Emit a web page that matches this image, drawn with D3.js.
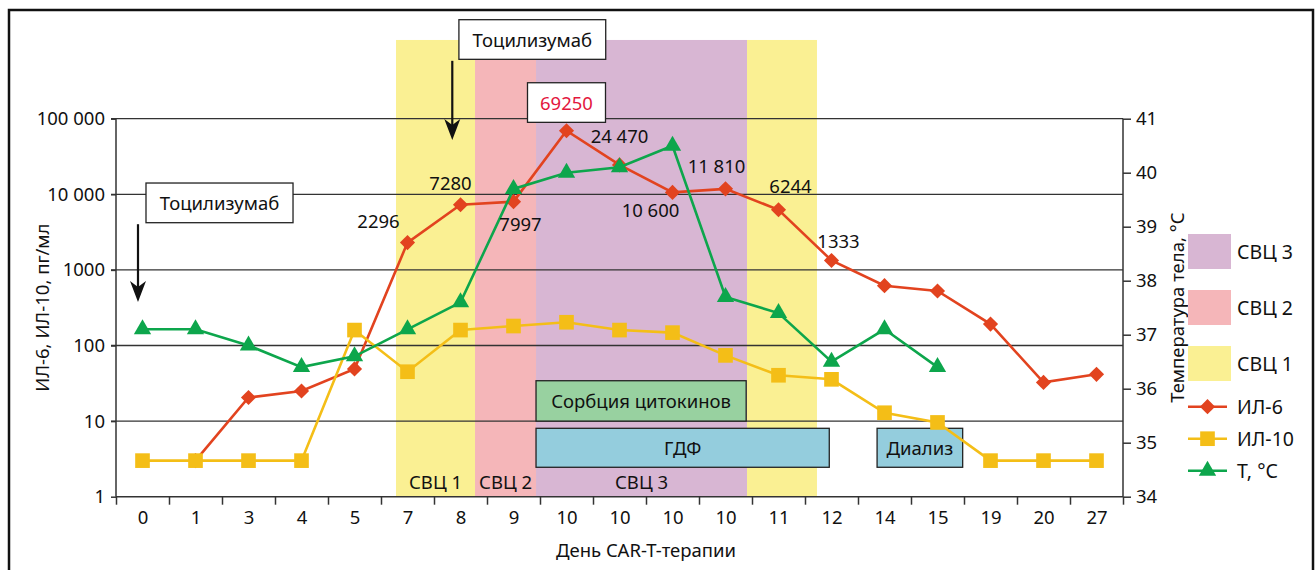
<!DOCTYPE html>
<html><head><meta charset="utf-8">
<script src="https://cdn.jsdelivr.net/npm/d3@7/dist/d3.min.js"></script>
<style>
body{margin:0;background:#fff;}
svg text{font-family:"Noto Sans",sans-serif;fill:#111;}
</style></head>
<body><svg id="c" width="1315" height="570"></svg>
<script>
// ---------- data ----------
const categories = ["0","1","3","4","5","7","8","9","10","10","10","10","11","12","14","15","19","20","27"];
const il6  = [null,3,20.5,25,49,2296,7280,7997,69250,24470,10600,11810,6244,1333,618,526,192,32.5,41.6];
const il10 = [3,3,3,3,160,45,160,181,203,160,148,74,40.4,35.7,12.9,9.6,3,3,3];
const temp = [37.1,37.1,36.8,36.4,36.6,37.1,37.6,39.7,40.0,40.1,40.5,37.7,37.4,36.5,37.1,36.4,null,null,null];
const leftTicks = [1,10,100,1000,10000,100000];
const leftTickLabels = ["1","10","100","1000","10 000","100 000"];
const rightTicks = [34,35,36,37,38,39,40,41];
// shaded periods, in category-index units
const periods = [
  {name:"СВЦ 1", from:5.283, to:6.774, color:"#faf093", label:true},
  {name:"СВЦ 2", from:6.774, to:7.925, color:"#f5b6b9", label:true},
  {name:"СВЦ 3", from:7.925, to:11.906, color:"#d8b6d3", label:true},
  {name:"СВЦ 1", from:11.906, to:13.226, color:"#faf093", label:false}
];
// treatment boxes: index span and value span (left axis)
const treatments = [
  {name:"Сорбция цитокинов", from:7.925, to:11.89, lo:10, hi:34.2, color:"#98d1a0"},
  {name:"ГДФ", from:7.925, to:13.458, lo:2.45, hi:8.03, color:"#94cddd"},
  {name:"Диализ", from:14.36, to:15.975, lo:2.45, hi:8.03, color:"#94cddd"}
];
// IL-6 value labels: index, text, offset
const il6Labels = [
  {i:5, t:"2296", dx:-29, dy:-15},
  {i:6, t:"7280", dx:-10, dy:-15},
  {i:7, t:"7997", dx:7, dy:29},
  {i:9, t:"24 470", dx:0, dy:-22},
  {i:10, t:"10 600", dx:-22, dy:25},
  {i:11, t:"11 810", dx:-9, dy:-16},
  {i:12, t:"6244", dx:12, dy:-17},
  {i:13, t:"1333", dx:7, dy:-12}
];
// Tocilizumab annotations (box spans + arrow)
const tocil = [
  {from:0.566, to:3.34, lo:4210, hi:14100, ax:0.415, atip:376},
  {from:6.47, to:9.24, lo:6.1e5, hi:2.04e6, ax:6.345, atip:52300}
];
const peak = {i:8, t:"69250", lo:8.95e4, hi:2.99e5};

// ---------- layout ----------
const svg = d3.select("#c");
const L=116, R=1123, T=118.7, B=496.7;
const x = d3.scaleLinear().domain([0,categories.length]).range([L,R]);
const cx = i => x(i+0.5);
const y = d3.scaleLog().domain([1,100000]).range([B,T]);
const yT = d3.scaleLinear().domain([34,41]).range([B,T]);
const FS = 18.5;

// outer frame
svg.append("rect").attr("x",9).attr("y",10).attr("width",1304).attr("height",600)
  .attr("fill","none").attr("stroke","#111").attr("stroke-width",2.5);

// shaded periods
svg.append("g").selectAll("rect").data(periods).join("rect")
  .attr("x",d=>x(d.from)).attr("width",d=>x(d.to)-x(d.from))
  .attr("y",y(1.1e6)).attr("height",B-y(1.1e6)).attr("fill",d=>d.color);

// gridlines
svg.append("g").selectAll("line").data(leftTicks.slice(1)).join("line")
  .attr("x1",L-5).attr("x2",R).attr("y1",d=>y(d)).attr("y2",d=>y(d))
  .attr("stroke","#333").attr("stroke-width",1.3);

// left axis
const gl = svg.append("g").attr("transform",`translate(${L},0)`)
  .call(d3.axisLeft(y).tickValues(leftTicks).tickFormat((d,i)=>leftTickLabels[i]).tickSize(5).tickPadding(6));
// right axis
const gr = svg.append("g").attr("transform",`translate(${R},0)`)
  .call(d3.axisRight(yT).tickValues(rightTicks).tickFormat(d3.format("d")).tickSize(8).tickPadding(5));
// bottom axis: boundary ticks
const gb = svg.append("g").attr("transform",`translate(0,${B})`)
  .call(d3.axisBottom(x).tickValues(d3.range(categories.length+1)).tickFormat("").tickSize(8));
const gb2 = svg.append("g").attr("transform",`translate(0,${B})`)
  .call(d3.axisBottom(x).tickValues(d3.range(categories.length).map(i=>i+0.5))
    .tickFormat((d)=>categories[Math.floor(d)]).tickSize(0).tickPadding(14));
gb2.select(".domain").remove();
[gl,gr,gb,gb2].forEach(g=>{
  g.selectAll(".domain").attr("stroke","#333").attr("stroke-width",1.5);
  g.selectAll(".tick line").attr("stroke","#333").attr("stroke-width",1.5);
  g.selectAll("text").attr("font-size",FS).attr("font-family","Noto Sans").attr("fill","#111");
});
gl.select(".domain").attr("d",`M0,${B}V${T}`);
gr.select(".domain").attr("d",`M0,${B}V${T}`);
gb.select(".domain").attr("d",`M${L},0H${R}`);

// treatment boxes
const tg = svg.append("g").selectAll("g").data(treatments).join("g");
tg.append("rect").attr("x",d=>x(d.from)).attr("width",d=>x(d.to)-x(d.from))
  .attr("y",d=>y(d.hi)).attr("height",d=>y(d.lo)-y(d.hi))
  .attr("fill",d=>d.color).attr("stroke","#222").attr("stroke-width",1.3);
tg.append("text").attr("x",d=>(x(d.from)+x(d.to))/2).attr("y",d=>(y(d.lo)+y(d.hi))/2)
  .attr("text-anchor","middle").attr("dominant-baseline","central").attr("font-size",FS)
  .text(d=>d.name);

// period labels
svg.append("g").selectAll("text").data(periods.filter(d=>d.label)).join("text")
  .attr("x",d=>(x(d.from)+x(d.to))/2).attr("y",B-8).attr("text-anchor","middle")
  .attr("font-size",FS).text(d=>d.name);

// series
const series = [
  {name:"ИЛ-6", vals:il6, sc:y, color:"#e2431f", sym:"diamond"},
  {name:"ИЛ-10", vals:il10, sc:y, color:"#f4be17", sym:"square"},
  {name:"Т, °С", vals:temp, sc:yT, color:"#0da64c", sym:"triangle"}
];
function marker(g, sym, color){
  if(sym==="diamond") g.append("path").attr("d",d3.symbol(d3.symbolSquare,115)()).attr("transform","rotate(45)").attr("fill",color);
  else if(sym==="square") g.append("path").attr("d",d3.symbol(d3.symbolSquare,215)()).attr("fill",color);
  else g.append("path").attr("d",d3.symbol(d3.symbolTriangle,130)()).attr("fill",color);
}
series.forEach(s=>{
  const line = d3.line().defined(v=>v!=null).x((v,i)=>cx(i)).y(v=>s.sc(v));
  svg.append("path").datum(s.vals).attr("d",line).attr("fill","none")
    .attr("stroke",s.color).attr("stroke-width",2.6);
  s.vals.forEach((v,i)=>{
    if(v==null) return;
    const g = svg.append("g").attr("transform",`translate(${cx(i)},${s.sc(v)})`);
    marker(g,s.sym,s.color);
  });
});

// IL-6 labels
svg.append("g").selectAll("text").data(il6Labels).join("text")
  .attr("x",d=>cx(d.i)+d.dx).attr("y",d=>y(il6[d.i])+d.dy).attr("text-anchor","middle")
  .attr("font-size",FS).text(d=>d.t);

// peak box
svg.append("rect").attr("x",cx(peak.i)-39).attr("width",78)
  .attr("y",y(peak.hi)).attr("height",y(peak.lo)-y(peak.hi))
  .attr("fill","#fff").attr("stroke","#222").attr("stroke-width",1.3);
svg.append("text").attr("x",cx(peak.i)).attr("y",(y(peak.hi)+y(peak.lo))/2)
  .attr("text-anchor","middle").attr("dominant-baseline","central")
  .attr("font-size",FS).style("fill","#e3173e").text(peak.t);

// Tocilizumab boxes and arrows
tocil.forEach(d=>{
  svg.append("rect").attr("x",x(d.from)).attr("width",x(d.to)-x(d.from))
    .attr("y",y(d.hi)).attr("height",y(d.lo)-y(d.hi))
    .attr("fill","#fff").attr("stroke","#222").attr("stroke-width",1.3);
  svg.append("text").attr("x",(x(d.from)+x(d.to))/2).attr("y",(y(d.hi)+y(d.lo))/2)
    .attr("text-anchor","middle").attr("dominant-baseline","central")
    .attr("font-size",FS).text("Тоцилизумаб");
  const ax = x(d.ax), tip = y(d.atip), top = y(d.lo)+1.5;
  svg.append("line").attr("x1",ax).attr("x2",ax).attr("y1",top).attr("y2",tip-12)
    .attr("stroke","#111").attr("stroke-width",2.2);
  svg.append("path").attr("d",`M${ax},${tip} L${ax-8},${tip-21} L${ax},${tip-15} L${ax+8},${tip-21} Z`)
    .attr("fill","#111");
});

// axis titles
svg.append("text").attr("transform",`translate(49,${(T+B)/2}) rotate(-90)`)
  .attr("text-anchor","middle").attr("font-size",FS).text("ИЛ-6, ИЛ-10, пг/мл");
svg.append("text").attr("transform",`translate(1184,${(T+B)/2}) rotate(-90)`)
  .attr("text-anchor","middle").attr("font-size",FS).text("Температура тела, °С");
svg.append("text").attr("x",x(10)).attr("y",557).attr("text-anchor","middle")
  .attr("font-size",FS).text("День CAR-T-терапии");

// legend
const lg = svg.append("g");
const legPeriods = [periods[2],periods[1],periods[0]];
legPeriods.forEach((p,k)=>{
  const yy = 234 + k*56;
  lg.append("rect").attr("x",1188).attr("y",yy).attr("width",43).attr("height",35).attr("fill",p.color);
  lg.append("text").attr("x",1237).attr("y",yy+17.5).attr("dominant-baseline","central")
    .attr("font-size",FS+1).text(p.name);
});
series.forEach((s,k)=>{
  const yy = 406.7 + k*32;
  lg.append("line").attr("x1",1188).attr("x2",1227).attr("y1",yy).attr("y2",yy)
    .attr("stroke",s.color).attr("stroke-width",2.6);
  const g = lg.append("g").attr("transform",`translate(1207.5,${yy})`);
  marker(g,s.sym,s.color);
  lg.append("text").attr("x",1237).attr("y",yy).attr("dominant-baseline","central")
    .attr("font-size",FS+1).text(s.name);
});
</script></body></html>
